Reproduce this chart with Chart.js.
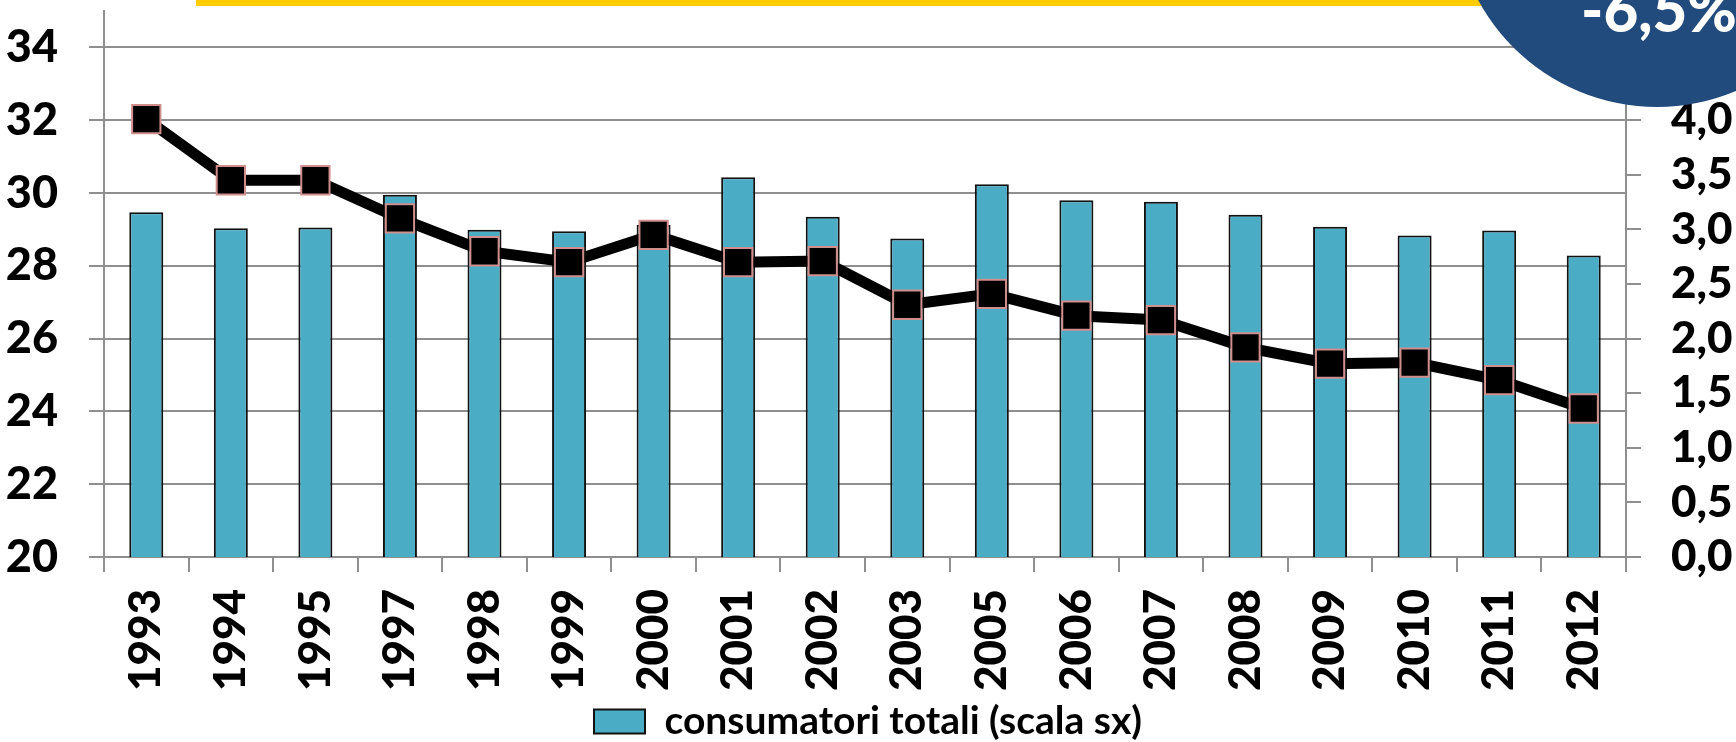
<!DOCTYPE html>
<html>
<head>
<meta charset="utf-8">
<script src="https://cdn.jsdelivr.net/npm/chart.js@4.4.1/dist/chart.umd.min.js"></script>
<style>
  html, body { margin: 0; padding: 0; background: #ffffff; }
  #wrap { position: relative; width: 1736px; height: 742px; overflow: hidden; }
</style>
</head>
<body>
<div id="wrap"><canvas id="c" width="1736" height="742"></canvas></div>
<script>
// ---- data ----
const years = ['1993','1994','1995','1997','1998','1999','2000','2001','2002','2003','2005','2006','2007','2008','2009','2010','2011','2012'];
const consumatoriTotali = [29.47, 29.03, 29.05, 29.95, 28.99, 28.95, 29.12, 30.43, 29.35, 28.75, 30.24, 29.80, 29.76, 29.40, 29.07, 28.83, 28.97, 28.28];
const serieDx = [4.01, 3.45, 3.45, 3.10, 2.80, 2.70, 2.95, 2.70, 2.71, 2.31, 2.41, 2.21, 2.17, 1.92, 1.77, 1.78, 1.62, 1.36];
const leftTicks = [20, 22, 24, 26, 28, 30, 32, 34];
const rightTicks = [0, 0.5, 1, 1.5, 2, 2.5, 3, 3.5, 4, 4.5, 5];
const rightTickLabels = ['0,0', '0,5', '1,0', '1,5', '2,0', '2,5', '3,0', '3,5', '4,0', '', ''];
const legendLabel = 'consumatori totali (scala sx)';
const badgeText = '-6,5%';

const GRID = '#8f8f8f';
const FONT = 'Lato';
const LEG_H = 59;
const PAD_BOTTOM = -9;

const overlay = {
  id: 'overlay',
  afterDraw(chart) {
    const ctx = chart.ctx;
    ctx.save();
    ctx.fillStyle = '#FFCC00';
    ctx.fillRect(196, 0, 1320, 6);
    ctx.beginPath();
    ctx.arc(1657, -96, 203, 0, Math.PI * 2);
    ctx.fillStyle = '#214A7D';
    ctx.fill();
    ctx.fillStyle = '#ffffff';
    ctx.font = '900 60px ' + FONT;
    ctx.textAlign = 'center';
    ctx.textBaseline = 'alphabetic';
    ctx.fillText(badgeText, 1659, 32);
    ctx.restore();
  }
};

new Chart(document.getElementById('c'), {
  data: {
    labels: years,
    datasets: [
      {
        type: 'bar',
        label: legendLabel,
        data: consumatoriTotali,
        yAxisID: 'y',
        backgroundColor: '#4BACC6',
        borderColor: '#111111',
        borderWidth: 2,
        borderSkipped: 'start',
        categoryPercentage: 1,
        barPercentage: 0.402,
        order: 2
      },
      {
        type: 'line',
        label: 'scala dx',
        data: serieDx,
        yAxisID: 'y1',
        borderColor: '#000000',
        borderWidth: 11,
        tension: 0,
        pointStyle: 'rect',
        pointRadius: 20,
        pointBackgroundColor: '#000000',
        pointBorderColor: '#D08E8C',
        pointBorderWidth: 2,
        fill: false,
        order: 1
      }
    ]
  },
  options: {
    responsive: false,
    animation: false,
    layout: { autoPadding: false, padding: { top: 11, left: 0, right: 0, bottom: PAD_BOTTOM } },
    plugins: {
      tooltip: { enabled: false },
      legend: {
        position: 'bottom',
        labels: {
          filter: (item) => item.datasetIndex === 0,
          boxWidth: 51,
          boxHeight: 24,
          padding: 10,
          color: '#000000',
          font: { family: FONT, size: 39, weight: 'bold' }
        }
      }
    },
    scales: {
      x: {
        type: 'category',
        offset: true,
        grid: { drawOnChartArea: false, drawTicks: true, tickLength: 15, color: GRID, lineWidth: 2, offset: true },
        border: { display: true, color: GRID, width: 2 },
        ticks: {
          autoSkip: false, minRotation: 90, maxRotation: 90, padding: 17,
          color: '#000000', font: { family: FONT, size: 44, weight: '900' }
        },
        afterFit(s) { s.height = 742 - PAD_BOTTOM - 557 - LEG_H; s.paddingLeft = 0; s.paddingRight = 0; }
      },
      y: {
        position: 'left',
        min: 20, max: 35,
        afterBuildTicks(s) { s.ticks = leftTicks.map(v => ({ value: v })); },
        grid: { color: GRID, lineWidth: 2, tickLength: 15, drawTicks: true },
        border: { display: true, color: GRID, width: 2 },
        ticks: { autoSkip: false, padding: 31, color: '#000000', font: { family: FONT, size: 45, weight: '900' },
                 callback: (v) => String(v) },
        afterFit(s) { s.width = 104; s.paddingTop = 0; s.paddingBottom = 0; }
      },
      y1: {
        position: 'right',
        min: 0, max: 5,
        afterBuildTicks(s) { s.ticks = rightTicks.map(v => ({ value: v })); },
        grid: { drawOnChartArea: false, color: GRID, lineWidth: 2, tickLength: 15, drawTicks: true },
        border: { display: true, color: GRID, width: 2 },
        ticks: { autoSkip: false, padding: 30, color: '#000000', font: { family: FONT, size: 44, weight: '900' },
                 callback: (v) => rightTickLabels[rightTicks.indexOf(v)] },
        afterFit(s) { s.width = 110; s.paddingTop = 0; s.paddingBottom = 0; }
      }
    }
  },
  plugins: [overlay]
});
</script>
</body>
</html>
